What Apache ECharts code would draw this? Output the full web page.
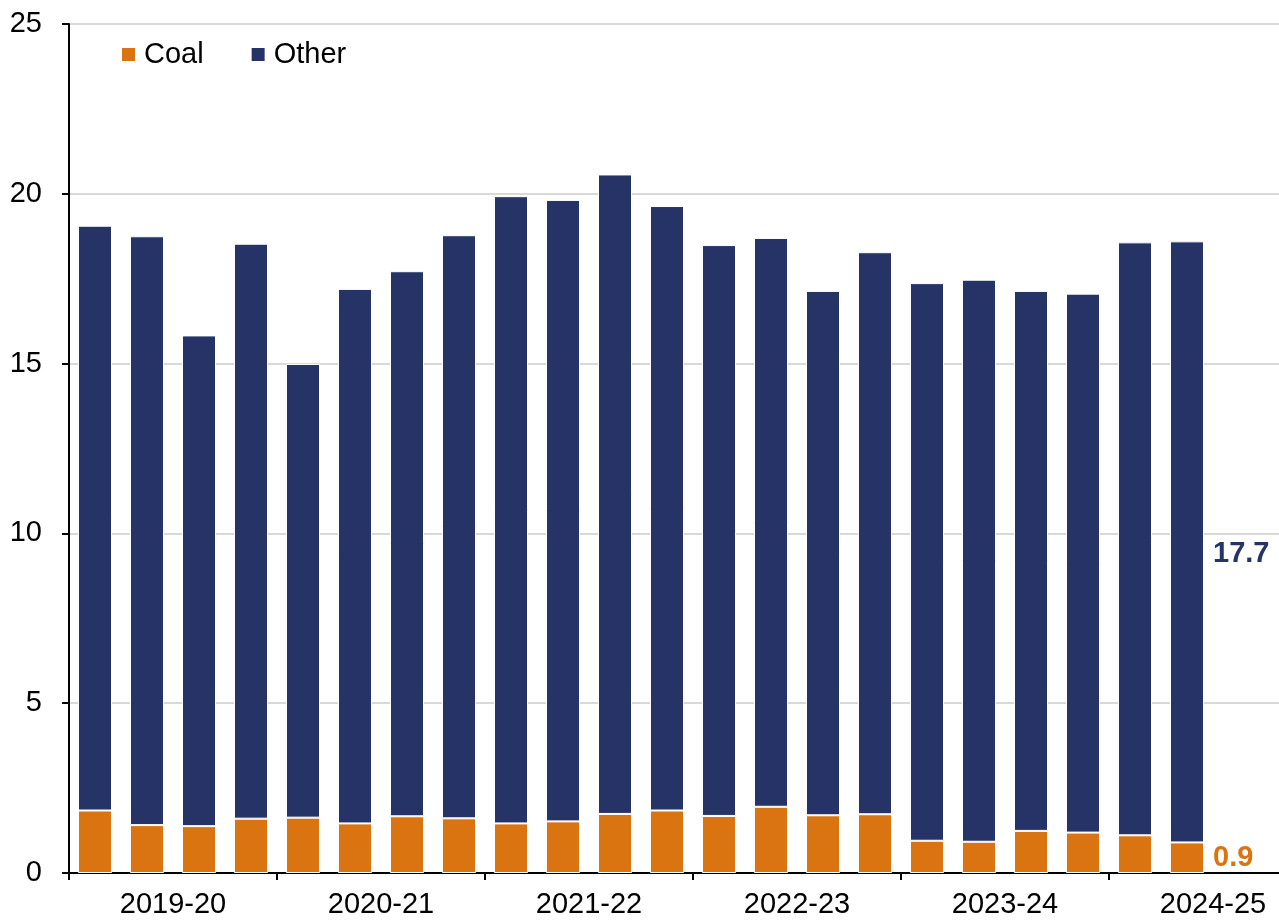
<!DOCTYPE html>
<html>
<head>
<meta charset="utf-8">
<script src="https://cdn.jsdelivr.net/npm/echarts@6/dist/echarts.min.js"></script>
<style>
  html, body { margin: 0; padding: 0; background: #fff; overflow: hidden; }
  #chart { width: 1279px; height: 923px; }
</style>
</head>
<body>
<div id="chart"></div>
<script>
// quarterly values, 2019-20 Q1 .. 2024-25 Q2
const quarters = ['Q1','Q2','Q3','Q4','Q1','Q2','Q3','Q4','Q1','Q2','Q3','Q4',
                  'Q1','Q2','Q3','Q4','Q1','Q2','Q3','Q4','Q1','Q2','','']
const years = ['2019-20','2020-21','2021-22','2022-23','2023-24','2024-25']
const coal = [1.84, 1.41, 1.38, 1.60, 1.63, 1.46, 1.67, 1.61, 1.46, 1.52, 1.74, 1.84,
              1.68, 1.95, 1.70, 1.73, 0.95, 0.92, 1.24, 1.19, 1.11, 0.9]
const other = [17.22, 17.34, 14.45, 16.93, 13.36, 15.74, 16.05, 17.17, 18.47, 18.30, 18.83, 17.80,
               16.81, 16.75, 15.44, 16.55, 16.42, 16.55, 15.90, 15.87, 17.46, 17.7]
const yTicks = [0, 5, 10, 15, 20, 25]

const font = 'Liberation Sans, Arial, sans-serif'
const orange = '#d97411'
const navy = '#253366'

const chart = echarts.init(document.getElementById('chart'))

// label only the last bar of each series
const lastLabel = (color, offset) => ({
    show: true,
    position: 'right',
    distance: 9,
    offset: offset,
    color: color,
    fontFamily: font,
    fontSize: 29,
    fontWeight: 'bold',
    formatter: (p) => p.dataIndex === coal.length - 1 ? p.value.toFixed(1) : ''
})

const option = {
    animation: false,
    backgroundColor: '#fff',
    textStyle: { fontFamily: font },
    legend: {
        left: 117,
        top: 35,
        icon: 'rect',
        itemWidth: 13,
        itemHeight: 13,
        itemGap: 48,
        itemStyle: { borderWidth: 0 },
        textStyle: { fontFamily: font, fontSize: 29, color: '#000', padding: [0, 0, 0, 4] },
        data: ['Coal', 'Other']
    },
    grid: {
        left: 69,
        top: 24,
        width: 24 * 52,
        bottom: 50,
        outerBoundsMode: 'none'
    },
    xAxis: [
        {
            type: 'category',
            data: quarters,
            position: 'bottom',
            axisLine: { show: false },
            axisTick: { show: false },
            axisLabel: { show: false }
        },
        {
            type: 'category',
            data: years,
            position: 'bottom',
            axisLine: { show: true, lineStyle: { color: '#000', width: 2 } },
            axisTick: { show: true, length: 7, lineStyle: { color: '#000', width: 2 } },
            axisLabel: { color: '#000', fontFamily: font, fontSize: 29, margin: 17 }
        }
    ],
    yAxis: {
        type: 'value',
        min: yTicks[0],
        max: yTicks[yTicks.length - 1],
        interval: 5,
        axisLine: { show: true, lineStyle: { color: '#000', width: 2 } },
        axisTick: { show: true, length: 7, lineStyle: { color: '#000', width: 2 } },
        axisLabel: { color: '#000', fontFamily: font, fontSize: 29, margin: 27 },
        splitLine: { show: true, lineStyle: { color: '#d9d9d9', width: 2 } }
    },
    series: [
        {
            name: 'Coal',
            type: 'bar',
            stack: 'total',
            xAxisIndex: 0,
            barWidth: 34,
            data: coal,
            itemStyle: { color: orange, borderColor: '#fff', borderWidth: 1 },
            label: lastLabel(orange, [0, 0])
        },
        {
            name: 'Other',
            type: 'bar',
            stack: 'total',
            xAxisIndex: 0,
            barWidth: 34,
            data: other,
            itemStyle: { color: navy, borderColor: '#fff', borderWidth: 1 },
            label: lastLabel(navy, [0, 12])
        }
    ]
}

chart.setOption(option)
</script>
</body>
</html>
